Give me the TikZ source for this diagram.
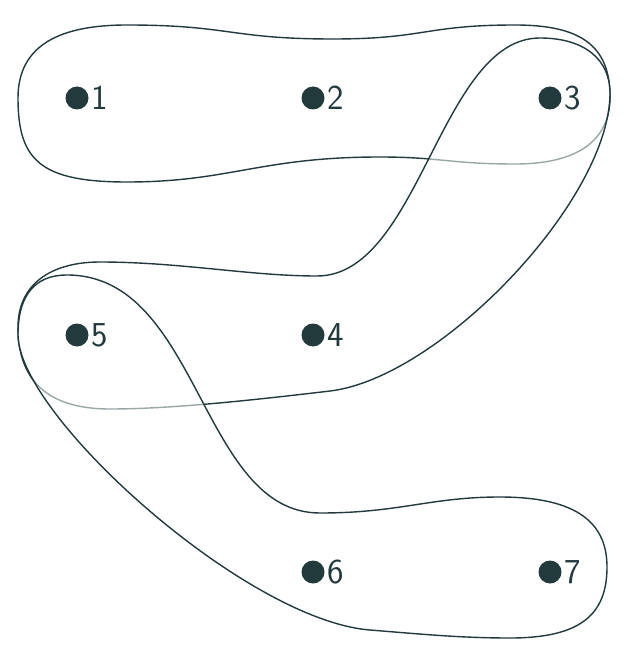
\documentclass[tikz,border=0pt]{standalone}
\definecolor{ink}{HTML}{233A3D}
\begin{document}
\begin{tikzpicture}[x=1pt,y=-1pt,
  hedge/.style={draw=ink,line width=1.4pt,fill=white,fill opacity=0.55,draw opacity=1},
  vert/.style={circle,fill=ink,inner sep=0pt,minimum size=23pt},
  lbl/.style={anchor=west,inner sep=0pt,text=ink,font=\sffamily\fontsize{35}{40}\selectfont,xshift=3pt}]
\useasboundingbox (0,0) rectangle (636,652);
% hyperedge {1,2,3}
\draw[hedge] (18,98)
  .. controls (18,45) and (60,25) .. (127,25)
  .. controls (230,25) and (230,39) .. (333,39)
  .. controls (425,39) and (425,25) .. (515,25)
  .. controls (580,25) and (610,45) .. (610,97)
  .. controls (610,135) and (585,164) .. (515,164)
  .. controls (450,164) and (440,157) .. (380,157)
  .. controls (260,157) and (230,182) .. (127,182)
  .. controls (40,182) and (18,160) .. (18,98) -- cycle;
% hyperedge {3,4,5}
\draw[hedge] (540,38)
  .. controls (585,38) and (610,60) .. (610,93)
  .. controls (610,200) and (440,378) .. (330,391)
  .. controls (250,400.5) and (170,409) .. (110,409)
  .. controls (45,409) and (18,378) .. (18,327)
  .. controls (18,285) and (50,262) .. (100,262)
  .. controls (180,262) and (250,276) .. (317,276)
  .. controls (420,276) and (440,38) .. (540,38) -- cycle;
% hyperedge {5,6,7}
\draw[hedge] (67,275)
  .. controls (200,275) and (200,513) .. (320,513)
  .. controls (400,513) and (430,497) .. (500,497)
  .. controls (580,497) and (607,525) .. (607,567)
  .. controls (607,615) and (580,638) .. (510,638)
  .. controls (460,638) and (420,634) .. (370,630)
  .. controls (245,620) and (18,415) .. (18,335)
  .. controls (18,295) and (35,275) .. (67,275) -- cycle;
% vertices
\node[vert] (v1) at (77,98) {};
\node[vert] (v2) at (313,98) {};
\node[vert] (v3) at (550,98) {};
\node[vert] (v4) at (313,335) {};
\node[vert] (v5) at (77,335) {};
\node[vert] (v6) at (313,572) {};
\node[vert] (v7) at (550,572) {};
\node[lbl] (l1) at (v1.east) {1};
\node[lbl] (l2) at (v2.east) {2};
\node[lbl] (l3) at (v3.east) {3};
\node[lbl] (l4) at (v4.east) {4};
\node[lbl] (l5) at (v5.east) {5};
\node[lbl] (l6) at (v6.east) {6};
\node[lbl] (l7) at (v7.east) {7};
\end{tikzpicture}
\end{document}
